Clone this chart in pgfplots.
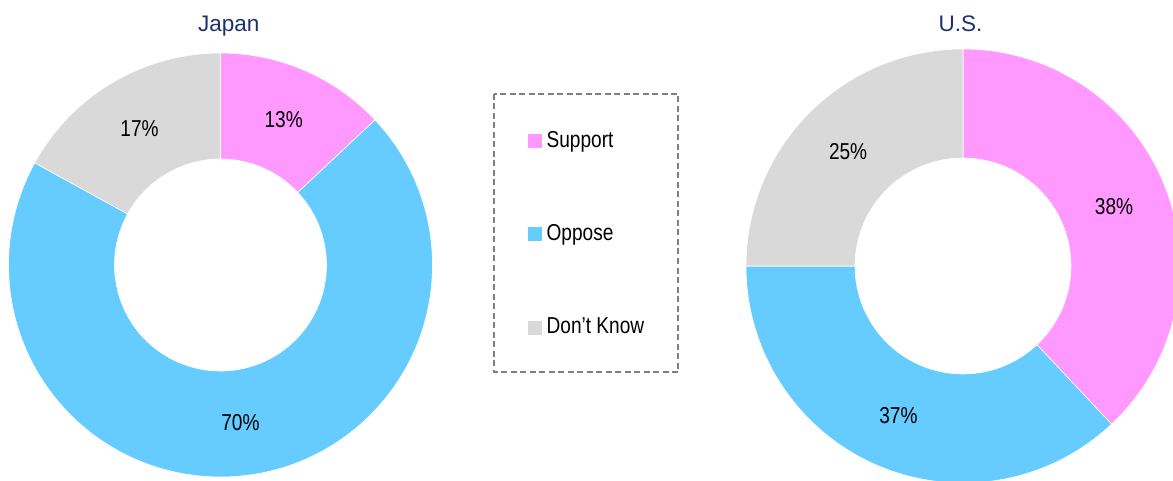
\documentclass[border=0pt]{standalone}
\usepackage{pgfplots}
\pgfplotsset{compat=1.18}
\usepackage{pgfplotstable}
\usepackage{fontspec}
\setmainfont{Liberation Sans}
\newfontfamily\narrowfont[FakeStretch=0.83]{Liberation Sans}
\definecolor{cSup}{HTML}{FF99FF}
\definecolor{cOpp}{HTML}{66CCFF}
\definecolor{cDK}{HTML}{D9D9D9}
\definecolor{cTitle}{HTML}{1C326C}
\definecolor{cBox}{HTML}{808080}

\pgfplotstableread{
country support oppose dontknow
Japan 13 70 17
US 38 37 25
}\surveydata

% ring slice: cx cy R r a0 a1 colour
\newcommand\slice[7]{%
  \fill[#7, draw=white, line width=0.6pt]
    (axis cs:{#1+#3*cos(#5)},{#2+#3*sin(#5)})
    arc[start angle=#5, end angle=#6, radius=#3pt]
    -- (axis cs:{#1+#4*cos(#6)},{#2+#4*sin(#6)})
    arc[start angle=#6, end angle=#5, radius=#4pt] -- cycle;}
% label at the middle of a slice: cx cy R r a0 a1 text
\newcommand\slicelabel[7]{%
  \node[font=\narrowfont\fontsize{23}{26}\selectfont, inner sep=0pt]
    at (axis cs:{#1+(#3+#4)/2*cos((#5+#6)/2)},{#2+(#3+#4)/2*sin((#5+#6)/2)}) {#7};}

\begin{document}
\begin{tikzpicture}
% angles from the data (clockwise from the top)
\pgfplotstablegetelem{0}{support}\of\surveydata \edef\JS{\pgfplotsretval}
\pgfplotstablegetelem{0}{oppose}\of\surveydata \edef\JO{\pgfplotsretval}
\pgfplotstablegetelem{0}{dontknow}\of\surveydata \edef\JD{\pgfplotsretval}
\pgfplotstablegetelem{1}{support}\of\surveydata \edef\US{\pgfplotsretval}
\pgfplotstablegetelem{1}{oppose}\of\surveydata \edef\UO{\pgfplotsretval}
\pgfplotstablegetelem{1}{dontknow}\of\surveydata \edef\UD{\pgfplotsretval}
\pgfmathsetmacro\JaA{90-3.6*\JS}
\pgfmathsetmacro\JaB{\JaA-3.6*\JO}
\pgfmathsetmacro\JaC{\JaB-3.6*\JD}
\pgfmathsetmacro\UsA{90-3.6*\US}
\pgfmathsetmacro\UsB{\UsA-3.6*\UO}
\pgfmathsetmacro\UsC{\UsB-3.6*\UD}
\begin{axis}[
  name=main,
  width=1173pt, height=480pt, scale only axis,
  xmin=0, xmax=1173, ymin=0, ymax=480,
  hide axis, clip=true,
  legend cell align=left,
  legend style={at={(0.45013,0.72146)}, anchor=north west,
    draw=none, fill=none, inner sep=0pt, row sep=80pt,
    nodes={inner sep=0pt, text height=13pt, text depth=0pt,
      font=\narrowfont\fontsize{23}{26}\selectfont},
    /tikz/every odd column/.style={column sep=5pt}},
]
% Japan
\slice{220.5}{215}{212}{106}{90}{\JaA}{cSup}
\slice{220.5}{215}{212}{106}{\JaA}{\JaB}{cOpp}
\slice{220.5}{215}{212}{106}{\JaB}{\JaC}{cDK}
\slicelabel{220.5}{215}{212}{106}{90}{\JaA}{\JS\%}
\slicelabel{220.5}{215}{212}{106}{\JaA}{\JaB}{\JO\%}
\slicelabel{220.5}{215}{212}{106}{\JaB}{\JaC}{\JD\%}
% U.S.
\slice{963}{214}{217}{108}{90}{\UsA}{cSup}
\slice{963}{214}{217}{108}{\UsA}{\UsB}{cOpp}
\slice{963}{214}{217}{108}{\UsB}{\UsC}{cDK}
\slicelabel{963}{214}{217}{108}{90}{\UsA}{\US\%}
\slicelabel{963}{214}{217}{108}{\UsA}{\UsB}{\UO\%}
\slicelabel{963}{214}{217}{108}{\UsB}{\UsC}{\UD\%}
% titles
\node[anchor=base, text=cTitle, font=\fontsize{22.5}{26}\selectfont] at (axis cs:228.8,448.3) {Japan};
\node[anchor=base, text=cTitle, font=\fontsize{22.5}{26}\selectfont] at (axis cs:960.5,448.3) {U.S.};
% legend frame
\draw[cBox, line width=1.3pt, dash pattern=on 6pt off 3.5pt] (axis cs:494,386) rectangle (axis cs:678,108);
\addlegendimage{legend image code/.code={\fill[cSup] (0pt,-6.5pt) rectangle (13pt,6.5pt);}}
\addlegendentry{Support}
\addlegendimage{legend image code/.code={\fill[cOpp] (0pt,-6.5pt) rectangle (13pt,6.5pt);}}
\addlegendentry{Oppose}
\addlegendimage{legend image code/.code={\fill[cDK] (0pt,-6.5pt) rectangle (13pt,6.5pt);}}
\addlegendentry{Don’t Know}
\end{axis}
\pgfresetboundingbox
\useasboundingbox (main.south west) rectangle (main.north east);
\end{tikzpicture}
\end{document}
